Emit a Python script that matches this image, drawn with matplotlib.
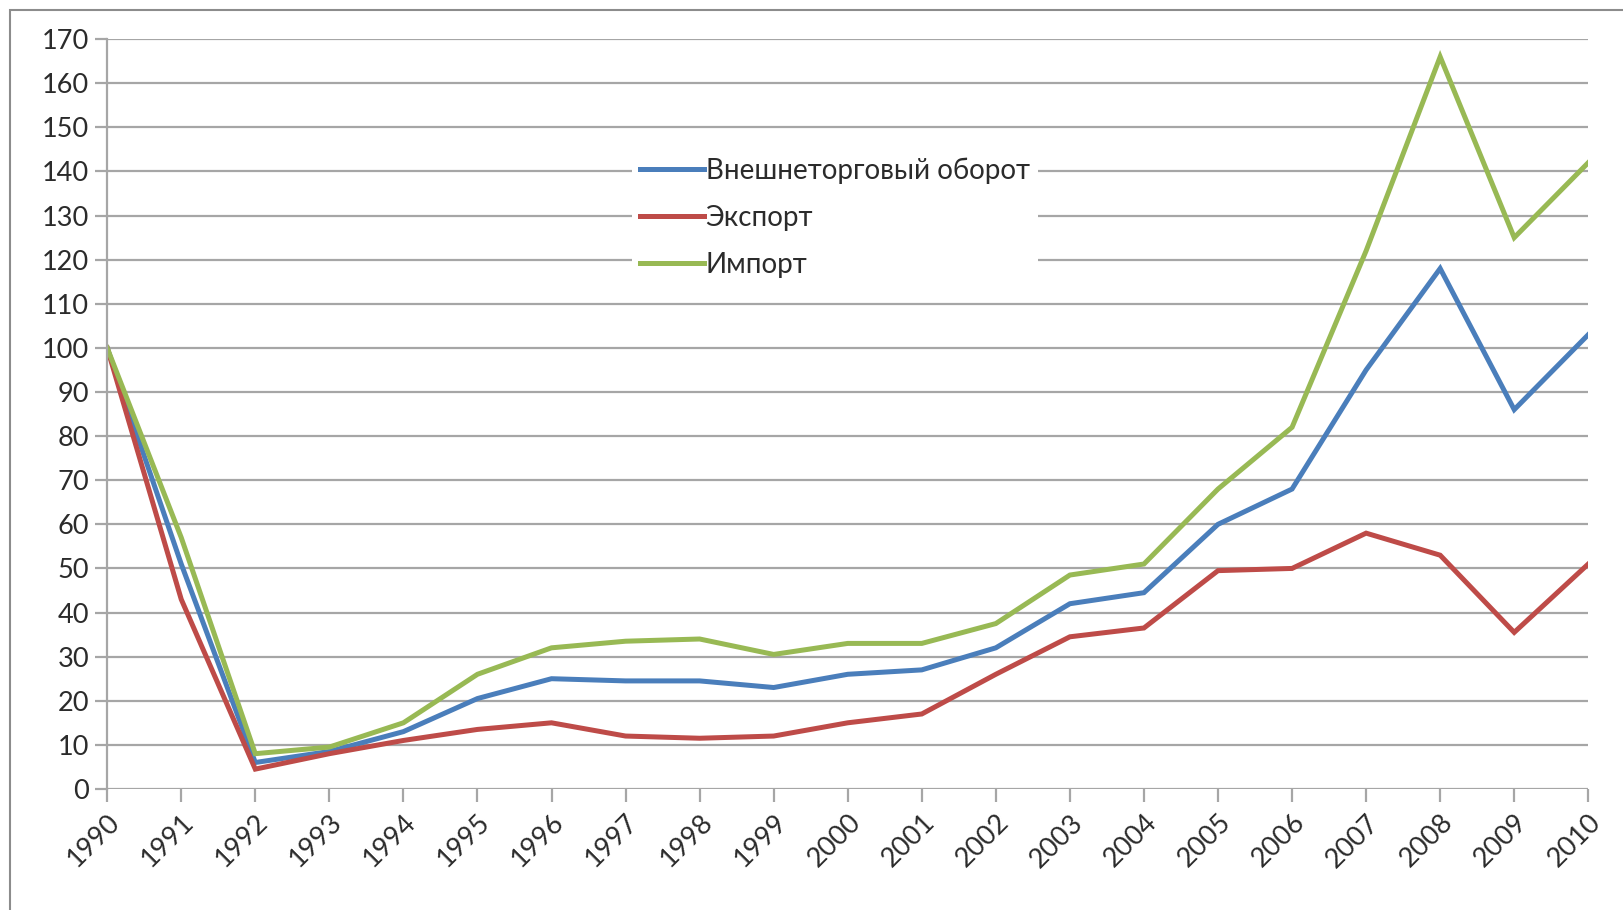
import matplotlib.pyplot as plt
from matplotlib.patches import Rectangle

plt.rcParams['font.family'] = ['Lato', 'DejaVu Sans']

# Data (1990 = 100)
years = list(range(1990, 2011))
turnover = [100, 51, 6, 8.5, 13, 20.5, 25, 24.5, 24.5, 23, 26, 27, 32, 42, 44.5, 60, 68, 95, 118, 86, 103]
export = [100, 43, 4.5, 8, 11, 13.5, 15, 12, 11.5, 12, 15, 17, 26, 34.5, 36.5, 49.5, 50, 58, 53, 35.5, 51]
imports = [100, 57, 8, 9.5, 15, 26, 32, 33.5, 34, 30.5, 33, 33, 37.5, 48.5, 51, 68, 82, 122, 166, 125, 142]
labels = ['Внешнеторговый оборот', 'Экспорт', 'Импорт']
colors = ['#4A7EBB', '#BE4B48', '#98B954']

fig = plt.figure(figsize=(16.24, 9.1), dpi=100)
ax = fig.add_axes([0.066, 0.133, 0.912, 0.824])

# outer chart border
fig.patches.append(Rectangle((0.006, -0.5), 2, 1.489, transform=fig.transFigure,
                             fill=False, edgecolor='#8c8c8c', lw=1.5))

for s, lab, c in zip([turnover, export, imports], labels, colors):
    ax.plot(years, s, color=c, lw=3.6, label=lab, solid_joinstyle='miter')

ax.set_xlim(1990, 2010)
ax.set_ylim(0, 170)
ax.set_yticks(range(0, 171, 10))
ax.set_xticks(years)
ax.set_xticklabels([str(y) for y in years], rotation=45, ha='right', rotation_mode='anchor')
ax.grid(axis='y', color='#a6a6a6', lw=1.6)
ax.set_axisbelow(True)
for sp in ['top', 'right', 'bottom']:
    ax.spines[sp].set_visible(False)
ax.spines['left'].set_color('#a6a6a6')
ax.spines['left'].set_linewidth(1.6)
ax.tick_params(axis='both', colors='#a6a6a6', labelcolor='#2b2b2b', labelsize=19.5, width=1.6, length=9)
ax.tick_params(axis='x', pad=6)
ax.tick_params(axis='y', pad=4)

leg = ax.legend(loc='upper left', bbox_to_anchor=(0.345, 0.872), fontsize=20, handlelength=2.3,
                handletextpad=0.05, labelspacing=0.76, frameon=True, borderpad=0.3)
leg.get_frame().set_facecolor('white')
leg.get_frame().set_edgecolor('none')
leg.get_frame().set_alpha(1)
for t in leg.get_texts():
    t.set_color('#2b2b2b')

fig.savefig('out.png', dpi=100)
